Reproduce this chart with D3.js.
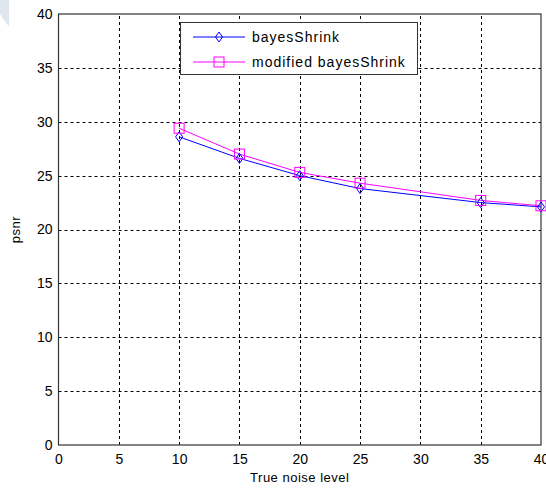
<!DOCTYPE html>
<html>
<head>
<meta charset="utf-8">
<script src="https://cdn.jsdelivr.net/npm/d3@7"></script>
<style>
body{margin:0;background:#fff}
svg text{font-family:Arial,"Liberation Sans",sans-serif;fill:#000}
</style>
</head>
<body>
<div id="chart"></div>
<script>
// noise levels and psnr values
var noise=[10,15,20,25,35,40]
var bayes=[28.6,26.6,25.0,23.8,22.5,22.1]
var modBayes=[29.4,27.0,25.3,24.3,22.7,22.2]
var xTicks=[0,5,10,15,20,25,30,35,40]
var yTicks=[0,5,10,15,20,25,30,35,40]
var seriesNames=['bayesShrink','modified bayesShrink']

var W=546,H=490
var svg=d3.select('#chart').append('svg').attr('width',W).attr('height',H)

// faint corner artifact
svg.append('path').attr('d','M0,0 L9,0 L9,27 L0,14 Z').attr('fill','#dfe6ee')

var x=d3.scaleLinear().domain([0,40]).range([58.5,541])
var y=d3.scaleLinear().domain([0,40]).range([445,14])

var g=svg.append('g')

// grid
g.selectAll('.gx').data(xTicks.slice(1,-1)).enter().append('line')
	.attr('x1',function(d){return Math.round(x(d))+0.5}).attr('x2',function(d){return Math.round(x(d))+0.5})
	.attr('y1',y(0)).attr('y2',y(40))
	.attr('stroke','#000').attr('stroke-dasharray','3,3')
g.selectAll('.gy').data(yTicks.slice(1,-1)).enter().append('line')
	.attr('y1',function(d){return Math.round(y(d))+0.5}).attr('y2',function(d){return Math.round(y(d))+0.5})
	.attr('x1',x(0)).attr('x2',x(40))
	.attr('stroke','#000').attr('stroke-dasharray','3,3')

// box
g.append('rect').attr('x',x(0)).attr('y',y(40)).attr('width',x(40)-x(0)).attr('height',y(0)-y(40))
	.attr('fill','none').attr('stroke','#333').attr('stroke-width',1.2)

// axes
var xa=g.append('g').attr('transform','translate(0,'+y(0)+')')
	.call(d3.axisBottom(x).tickValues(xTicks).tickSize(0).tickPadding(9).tickFormat(d3.format('d')))
var ya=g.append('g').attr('transform','translate('+x(0)+',0)')
	.call(d3.axisLeft(y).tickValues(yTicks).tickSize(0).tickPadding(6).tickFormat(d3.format('d')))
xa.select('.domain').remove()
ya.select('.domain').remove()
xa.selectAll('text').attr('font-size',14).attr('font-family','Arial,"Liberation Sans",sans-serif').attr('fill','#000')
ya.selectAll('text').attr('font-size',14).attr('font-family','Arial,"Liberation Sans",sans-serif').attr('fill','#000')

svg.append('text').attr('x',(x(0)+x(40))/2).attr('y',482).attr('text-anchor','middle')
	.attr('font-size',13).attr('letter-spacing',0.5).text('True noise level')
svg.append('text').attr('transform','translate(20,'+((y(0)+y(40))/2)+') rotate(-90)')
	.attr('text-anchor','middle').attr('font-size',13).attr('letter-spacing',0.5).text('psnr')

var line=d3.line().x(function(d){return x(d[0])}).y(function(d){return y(d[1])})
var blue='#0000ff',pink='#ff00ff'
var d1=noise.map(function(n,i){return [n,bayes[i]]})
var d2=noise.map(function(n,i){return [n,modBayes[i]]})

function diamond(sel,cx,cy){
	sel.append('path').attr('d','M'+cx+','+(cy-5)+' L'+(cx+3.5)+','+cy+' L'+cx+','+(cy+5)+' L'+(cx-3.5)+','+cy+' Z')
		.attr('fill','none').attr('stroke',blue)
}
function square(sel,cx,cy){
	sel.append('rect').attr('x',cx-5).attr('y',cy-5).attr('width',10).attr('height',10)
		.attr('fill','none').attr('stroke',pink)
}

g.append('path').datum(d1).attr('d',line).attr('fill','none').attr('stroke',blue)
g.append('path').datum(d2).attr('d',line).attr('fill','none').attr('stroke',pink)
d1.forEach(function(d){diamond(g,x(d[0]),y(d[1]))})
d2.forEach(function(d){square(g,x(d[0]),y(d[1]))})

// legend
var lg=svg.append('g')
lg.append('rect').attr('x',180.5).attr('y',22.5).attr('width',237).attr('height',52)
	.attr('fill','#fff').attr('stroke','#333')
var colors=[blue,pink]
seriesNames.forEach(function(n,i){
	var ly=37+i*25
	lg.append('line').attr('x1',193).attr('x2',245).attr('y1',ly).attr('y2',ly).attr('stroke',colors[i])
	if(i==0) diamond(lg,219,ly)
	else square(lg,219,ly)
	lg.append('text').attr('x',252).attr('y',ly+5).attr('font-size',14).attr('letter-spacing',1).text(n)
})
</script>
</body>
</html>
